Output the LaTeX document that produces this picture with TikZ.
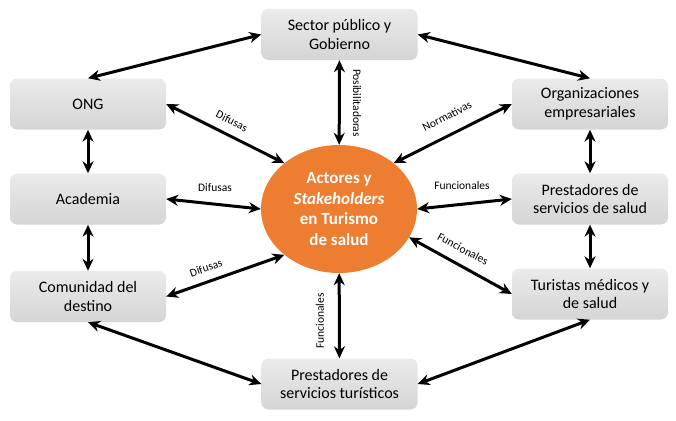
\documentclass[tikz,border=0pt]{standalone}
\usepackage{fontspec}
\setmainfont{Carlito}
\usetikzlibrary{shapes.geometric,arrows.meta}
\definecolor{naranja}{RGB}{237,125,49}
\tikzset{
 caja/.style={rounded corners=7pt,top color=gray!16,bottom color=gray!33,minimum width=156pt,minimum height=51pt,align=center,font=\fontsize{16}{18.5}\selectfont},
 rel/.style={font=\fontsize{11.5}{13}\selectfont,inner sep=1pt},
 flecha/.style={<->,line width=3pt}
}
\begin{document}
\begin{tikzpicture}[x=1pt,y=-1pt,>={Stealth[length=12pt,width=11pt]},line join=round]
 \useasboundingbox (0,0) rectangle (676,420);
 % actores centrales
 \node[ellipse,fill=naranja,minimum width=156pt,minimum height=128pt,inner sep=0pt,align=center,text=white,font=\bfseries\fontsize{17}{20.5}\selectfont] (actores) at (339,209) {Actores y\\\textit{Stakeholders}\\en Turismo\\de salud};
 % cajas
 \node[caja] (sector) at (339.5,34.5) {Sector público y\\Gobierno};
 \node[caja] (ong) at (88,104) {ONG};
 \node[caja] (acad) at (88,199) {Academia};
 \node[caja] (comun) at (88,296.5) {Comunidad del\\destino};
 \node[caja] (turis) at (339.5,384) {Prestadores de\\servicios turísticos};
 \node[caja] (orgs) at (590,104) {Organizaciones\\empresariales};
 \node[caja] (salud) at (590,199) {Prestadores de\\servicios de salud};
 \node[caja] (medic) at (590,294) {Turistas médicos y\\de salud};
 % anillo exterior
 \draw[flecha] (sector.west) -- (ong.north);
 \draw[flecha] (sector.east) -- (orgs.north);
 \draw[flecha] (ong) -- (acad);
 \draw[flecha] (acad) -- (comun);
 \draw[flecha] (orgs) -- (salud);
 \draw[flecha] (salud) -- (medic);
 \draw[flecha] (comun.south) -- (turis.west);
 \draw[flecha] (turis.east) -- (medic.south);
 % relaciones con el centro
 \draw[flecha] (sector) -- (actores);
 \draw[flecha] (turis) -- (actores);
 \draw[flecha] (ong.east) -- (actores.140);
 \draw[flecha] (acad.east) -- (actores.180);
 \draw[flecha] (comun.east) -- (actores.220);
 \draw[flecha] (orgs.west) -- (actores.40);
 \draw[flecha] (salud.west) -- (actores.0);
 \draw[flecha] (medic.west) -- (actores.-22);
 % etiquetas
 \node[rel,rotate=-90] (posib) at (357,103) {Posibilitadoras};
 \node[rel,rotate=-27] (dif1) at (232,121) {Difusas};
 \node[rel] (dif2) at (215,188) {Difusas};
 \node[rel,rotate=19] (dif3) at (206,268) {Difusas};
 \node[rel,rotate=90] (func1) at (320,321) {Funcionales};
 \node[rel,rotate=27] (norm) at (447,116) {Normativas};
 \node[rel] (func2) at (462,186) {Funcionales};
 \node[rel,rotate=-28] (func3) at (463,249) {Funcionales};
\end{tikzpicture}
\end{document}
